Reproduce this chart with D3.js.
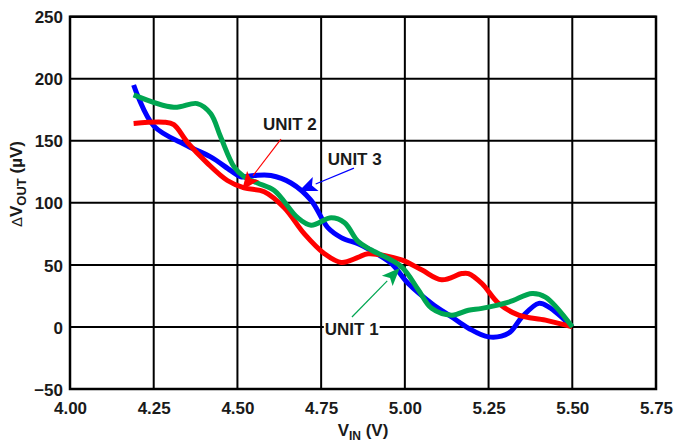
<!DOCTYPE html>
<html><head><meta charset="utf-8">
<script src="https://cdn.jsdelivr.net/npm/d3@7"></script>
<style>
body{margin:0;background:#fff;}
svg text{font-family:"Liberation Sans",Arial,sans-serif;font-weight:bold;fill:#1a1a1a;}
</style></head>
<body><svg id="c" width="678" height="445"></svg>
<script>
// ---- data ----
const xTicks = [4.00, 4.25, 4.50, 4.75, 5.00, 5.25, 5.50, 5.75];
const yTicks = [-50, 0, 50, 100, 150, 200, 250];

const unit1X = [4.19, 4.31, 4.38, 4.42, 4.45, 4.49, 4.52, 4.56, 4.61, 4.68, 4.72, 4.78, 4.82, 4.86, 4.90, 4.99, 5.04, 5.08, 5.14, 5.19, 5.23, 5.31, 5.38, 5.42, 5.50];
const unit1Y = [187, 177, 180, 172, 153, 129, 121, 116, 110, 88, 82, 88, 84, 69, 62, 48.5, 30, 15, 9.5, 13.5, 15, 20, 27, 24, 0];

const unit2X = [4.19, 4.28, 4.31, 4.35, 4.41, 4.47, 4.52, 4.58, 4.64, 4.70, 4.76, 4.81, 4.86, 4.89, 4.99, 5.05, 5.11, 5.17, 5.19, 5.23, 5.28, 5.34, 5.42, 5.50];
const unit2Y = [164, 165, 163, 149, 132, 118, 112, 109, 96, 75, 59, 52, 56, 59, 54, 46, 38, 43, 43, 35, 19, 9.5, 5.5, 0];

const unit3X = [4.19, 4.25, 4.35, 4.42, 4.48, 4.51, 4.55, 4.60, 4.66, 4.72, 4.77, 4.81, 4.86, 4.89, 4.96, 5.01, 5.08, 5.14, 5.19, 5.25, 5.31, 5.35, 5.40, 5.43, 5.50];
const unit3Y = [195, 162, 146, 137, 126, 121, 122, 122, 116, 102, 80, 72, 67, 63, 51, 35, 19, 8, -1, -8, -5, 8, 19, 16, 0];

const seriesNames = ["UNIT 3", "UNIT 2", "UNIT 1"];
const seriesColors = ["#0000ff", "#ff0000", "#00a651"];

// annotations (data coordinates): label position, arrow start, arrow tip
const annLabels = ["UNIT 2", "UNIT 3", "UNIT 1"];
const annTextX = [4.576, 4.770, 4.761];
const annTextY = [158.7, 130.5, -6.5];
const annFromX = [4.630, 4.848, 4.842];
const annFromY = [151.4, 128, 8];
const annToX = [4.514, 4.684, 4.985];
const annToY = [110.4, 109.6, 47.5];
const annColors = ["#ff0000", "#0000ff", "#00a651"];

// ---- layout ----
const svg = d3.select("#c");
const L = 70, R = 656, T = 16.7, B = 389;
const x = d3.scaleLinear().domain([4.0, 5.75]).range([L, R]);
const y = d3.scaleLinear().domain([-50, 250]).range([B, T]);

// grid
const g = svg.append("g");
g.selectAll("line.v").data(xTicks).join("line")
  .attr("x1", d => x(d)).attr("x2", d => x(d)).attr("y1", T).attr("y2", B)
  .attr("stroke", "#000").attr("stroke-width", 2);
g.selectAll("line.h").data(yTicks).join("line")
  .attr("y1", d => y(d)).attr("y2", d => y(d)).attr("x1", L).attr("x2", R)
  .attr("stroke", "#000").attr("stroke-width", 2);
g.append("rect").attr("x", L).attr("y", T).attr("width", R - L).attr("height", B - T)
  .attr("fill", "none").attr("stroke", "#000").attr("stroke-width", 2.5);

// axes labels via d3 axes (hide domain/ticks, keep text)
const xAxis = svg.append("g").attr("transform", `translate(0,${B})`)
  .call(d3.axisBottom(x).tickValues(xTicks).tickFormat(d3.format(".2f")).tickSize(0).tickPadding(10));
const yAxis = svg.append("g").attr("transform", `translate(${L},0)`)
  .call(d3.axisLeft(y).tickValues(yTicks).tickFormat(d3.format("d")).tickSize(0).tickPadding(7));
[xAxis, yAxis].forEach(a => {
  a.select(".domain").remove();
  a.selectAll("text").attr("font-size", 17).attr("fill", "#1a1a1a")
    .attr("font-family", '"Liberation Sans",Arial,sans-serif').attr("font-weight", "bold");
});
xAxis.selectAll("text").attr("dy", "0.9em");
yAxis.selectAll("text").attr("dy", "0.36em");

// axis titles
const xt = svg.append("text").attr("x", 363).attr("y", 436).attr("text-anchor", "middle").attr("font-size", 17);
xt.append("tspan").text("V");
xt.append("tspan").text("IN").attr("font-size", 12).attr("dy", 3.5);
xt.append("tspan").text(" (V)").attr("dy", -3.5);

const yt = svg.append("text").attr("transform", "translate(22,184) rotate(-90)")
  .attr("text-anchor", "middle").attr("font-size", 17);
yt.append("tspan").text("Δ").attr("font-weight", "normal").attr("font-size", 15);
yt.append("tspan").text("V");
yt.append("tspan").text("OUT").attr("font-size", 13).attr("dy", 4);
yt.append("tspan").text(" (µV)").attr("dy", -4);

// series
const series = [
  {xs: unit3X, ys: unit3Y, c: seriesColors[0]},
  {xs: unit2X, ys: unit2Y, c: seriesColors[1]},
  {xs: unit1X, ys: unit1Y, c: seriesColors[2]}
];
const line = d3.line().x(d => x(d[0])).y(d => y(d[1])).curve(d3.curveCatmullRom.alpha(0.5));
series.forEach(s => {
  svg.append("path").datum(s.xs.map((v, i) => [v, s.ys[i]]))
    .attr("d", line).attr("fill", "none").attr("stroke", s.c)
    .attr("stroke-width", 5).attr("stroke-linejoin", "round").attr("stroke-linecap", "butt");
});

// annotations
annLabels.forEach((lab, i) => {
  const x1 = x(annFromX[i]), y1 = y(annFromY[i]), x2 = x(annToX[i]), y2 = y(annToY[i]);
  const ang = Math.atan2(y2 - y1, x2 - x1);
  const hl = 18, hw = 7.5;
  const bx = x2 - hl * Math.cos(ang), by = y2 - hl * Math.sin(ang);
  svg.append("line").attr("x1", x1).attr("y1", y1).attr("x2", bx).attr("y2", by)
    .attr("stroke", annColors[i]).attr("stroke-width", 1.2);
  const p = [[x2, y2],
    [bx + hw * Math.sin(ang), by - hw * Math.cos(ang)],
    [bx + 4 * Math.cos(ang), by + 4 * Math.sin(ang)],
    [bx - hw * Math.sin(ang), by + hw * Math.cos(ang)]];
  svg.append("polygon").attr("points", p.map(q => q.join(",")).join(" ")).attr("fill", annColors[i]);

  const t = svg.append("text").attr("x", x(annTextX[i])).attr("y", y(annTextY[i]))
    .attr("font-size", 17).text(lab);
  const bb = t.node().getBBox();
  svg.insert("rect", () => t.node()).attr("x", bb.x - 1).attr("y", bb.y + 2)
    .attr("width", bb.width + 2).attr("height", bb.height - 4).attr("fill", "#fff");
});
</script></body></html>
